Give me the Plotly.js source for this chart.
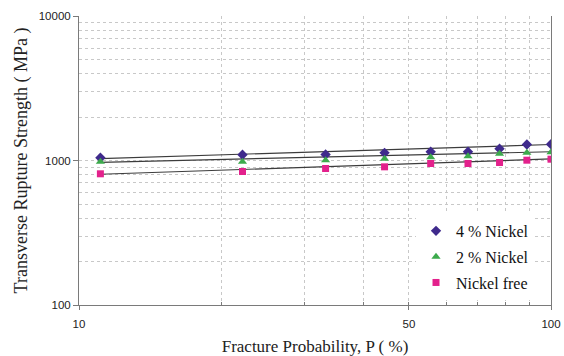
<!DOCTYPE html>
<html>
<head>
<meta charset="utf-8">
<script src="https://cdn.plot.ly/plotly-3.0.1.min.js"></script>
<style>html,body{margin:0;padding:0;background:#fff}#chart{width:564px;height:356px}</style>
</head>
<body>
<div id="chart"></div>
<script>
// Fracture probability P (%)
const probability = [11.1, 22.2, 33.3, 44.4, 55.6, 66.7, 77.8, 88.9, 100];
// Transverse rupture strength (MPa)
const nickel4 = [1045, 1095, 1100, 1130, 1150, 1150, 1205, 1290, 1295];
const nickel2 = [980, 980, 1005, 1027, 1054, 1071, 1113, 1131, 1141];
const nickelFree = [809, 839, 880, 904, 953, 953, 969, 1005, 1021];
// Trend line end points
const trendX = [11.1, 100];
const trend4 = [1030, 1290];
const trend2 = [972, 1150];
const trend0 = [803, 1025];
const seriesNames = ['4 % Nickel', '2 % Nickel', 'Nickel free'];
const xTickVals = [10, 50, 100];
const xTickText = ['10', '50', '100'];
const xMinor = [20, 30, 40, 50, 60, 70, 80, 90];
const yTickVals = [100, 1000, 10000];
const yTickText = ['100', '1000', '10000'];
const yMinor = [200,300,400,500,600,700,800,900,2000,3000,4000,5000,6000,7000,8000,9000];

const lineStyle = {color: '#3c3c3c', width: 1.2};
const traces = [
  {x: trendX, y: trend4, mode: 'lines', line: lineStyle, showlegend: false, hoverinfo: 'skip'},
  {x: trendX, y: trend2, mode: 'lines', line: lineStyle, showlegend: false, hoverinfo: 'skip'},
  {x: trendX, y: trend0, mode: 'lines', line: lineStyle, showlegend: false, hoverinfo: 'skip'},
  {x: probability, y: nickel4, name: seriesNames[0], mode: 'markers', legendgroup: 'a',
   marker: {symbol: 'diamond', size: 8, color: '#3f2a8c'}},
  {x: probability, y: nickel2, name: seriesNames[1], mode: 'markers', legendgroup: 'b',
   marker: {symbol: 'triangle-up', size: 8, color: '#3caa4c'}},
  {x: probability, y: nickelFree, name: seriesNames[2], mode: 'markers', legendgroup: 'c',
   marker: {symbol: 'square', size: 7, color: '#e3218c'}}
];

const layout = {
  width: 564, height: 356,
  margin: {l: 79, r: 13, t: 16, b: 51},
  paper_bgcolor: '#fff', plot_bgcolor: '#fff',
  showlegend: true,
  legend: {x: 0.714, y: 0.315, xanchor: 'left', yanchor: 'top', bgcolor: '#fff',
    font: {family: 'Liberation Serif', size: 16, color: '#111'},
    traceorder: 'grouped', tracegroupgap: 2},
  xaxis: {
    type: 'log', range: [1, 2], tickmode: 'array', tickvals: xTickVals, ticktext: xTickText,
    showline: true, linecolor: '#7a7a7a', linewidth: 1, mirror: false,
    ticks: 'outside', ticklen: 4, tickcolor: '#7a7a7a', ticklabelstandoff: 4,
    showgrid: false, zeroline: false,
    tickfont: {family: 'Liberation Sans', size: 11.5, color: '#222'},
    minor: {tickmode: 'array', tickvals: xMinor, ticks: 'inside', ticklen: 3, tickcolor: '#7a7a7a',
      showgrid: true, gridcolor: '#c8c8c8', griddash: 'dot', gridwidth: 1},
    title: {text: 'Fracture Probability, P ( %)', standoff: 13,
      font: {family: 'Liberation Serif', size: 17, color: '#222'}}
  },
  yaxis: {
    type: 'log', range: [2, 4], tickmode: 'array', tickvals: yTickVals, ticktext: yTickText,
    showline: true, linecolor: '#7a7a7a', linewidth: 1, mirror: true,
    ticks: 'outside', ticklen: 5, tickcolor: '#7a7a7a',
    showgrid: true, gridcolor: '#c8c8c8', griddash: 'dot', gridwidth: 1, zeroline: false,
    tickfont: {family: 'Liberation Sans', size: 11.5, color: '#222'},
    minor: {tickmode: 'array', tickvals: yMinor, ticks: '', showgrid: true,
      gridcolor: '#c8c8c8', griddash: 'dot', gridwidth: 1},
    title: {text: 'Transverse Rupture Strength ( MPa )', standoff: 6,
      font: {family: 'Liberation Serif', size: 18, color: '#222'}}
  }
};
Plotly.newPlot('chart', traces, layout, {displayModeBar: false, staticPlot: true});
</script>
</body>
</html>
